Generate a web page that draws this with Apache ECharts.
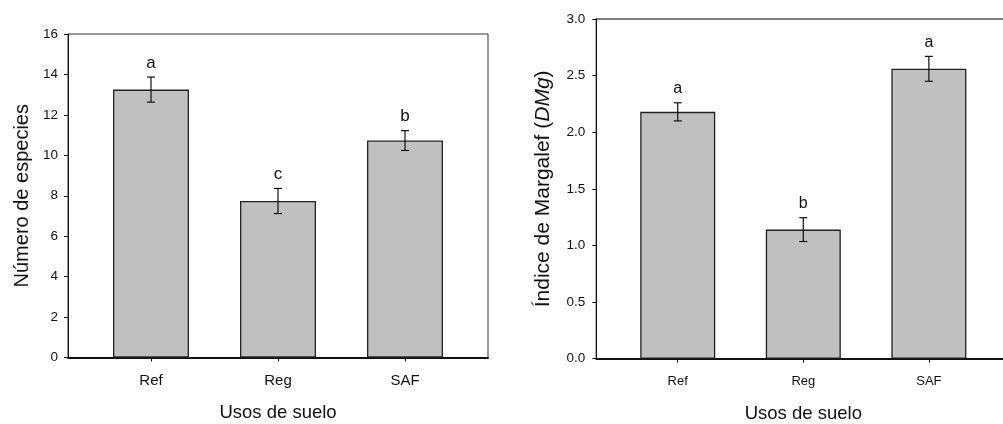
<!DOCTYPE html>
<html>
<head>
<meta charset="utf-8">
<script src="https://cdn.jsdelivr.net/npm/echarts@6/dist/echarts.min.js"></script>
<style>html,body{margin:0;padding:0;background:#fff}#c{width:1003px;height:424px}</style>
</head>
<body>
<div id="c"></div>
<script>
var categories = ['Ref', 'Reg', 'SAF'];
var speciesMean = [13.25, 7.74, 10.73];
var speciesErr = [0.62, 0.62, 0.49];
var speciesLetters = ['a', 'c', 'b'];
var margalefMean = [2.18, 1.14, 2.56];
var margalefErr = [0.08, 0.105, 0.11];
var margalefLetters = ['a', 'b', 'a'];
var speciesTicks = [0, 2, 4, 6, 8, 10, 12, 14, 16];
var margalefTicks = [0, 0.5, 1.0, 1.5, 2.0, 2.5, 3.0];

var FONT = '"Liberation Sans", Arial, Helvetica, sans-serif';
var chart = echarts.init(document.getElementById('c'), null, {renderer: 'canvas'});

function barData(means) { return means.map(function (v, i) { return [i, v]; }); }
function errData(means, errs) {
  return means.map(function (v, i) { return [i, v - errs[i], v + errs[i]]; });
}
function renderErr(letters, capHalf, labelSize, labelGap) {
  return function (params, api) {
    var x = api.value(0);
    var lo = api.coord([x, api.value(1)]);
    var hi = api.coord([x, api.value(2)]);
    var st = {stroke: '#111', lineWidth: 1.2};
    return {
      type: 'group',
      children: [
        {type: 'line', shape: {x1: lo[0], y1: lo[1], x2: hi[0], y2: hi[1]}, style: st},
        {type: 'line', shape: {x1: lo[0] - capHalf, y1: lo[1], x2: lo[0] + capHalf, y2: lo[1]}, style: st},
        {type: 'line', shape: {x1: hi[0] - capHalf, y1: hi[1], x2: hi[0] + capHalf, y2: hi[1]}, style: st},
        {type: 'text', x: hi[0], y: hi[1] - labelGap, style: {text: letters[params.dataIndex], fill: '#111', fontSize: labelSize, fontFamily: FONT, align: 'center', verticalAlign: 'middle'}}
      ]
    };
  };
}

function xAxisCfg(gridIndex, min, max, labelSize, margin) {
  return {
    type: 'value', gridIndex: gridIndex, min: min, max: max,
    splitLine: {show: false},
    axisLine: {show: true, onZero: false, lineStyle: {color: '#111', width: 2}},
    axisTick: {show: true, customValues: [0, 1, 2], length: 4, lineStyle: {color: '#111', width: 1}},
    axisLabel: {show: true, customValues: [0, 1, 2], margin: margin, fontSize: labelSize, color: '#111', fontFamily: FONT,
      formatter: function (v) { return categories[Math.round(v)]; }},
    name: 'Usos de suelo', nameLocation: 'middle', nameGap: 46, nameMoveOverlap: false,
    nameTextStyle: {fontSize: 18.5, color: '#111', fontFamily: FONT}
  };
}

var option = {
  animation: false,
  backgroundColor: '#fff',
  grid: [
    {left: 68, top: 34, width: 420, height: 323.5, show: true, borderColor: '#333', borderWidth: 1, backgroundColor: 'transparent', outerBoundsMode: 'none', containLabel: false},
    {left: 596.3, top: 19, width: 414, height: 339.7, show: true, borderColor: '#555', borderWidth: 1.5, backgroundColor: 'transparent', outerBoundsMode: 'none', containLabel: false}
  ],
  xAxis: [
    xAxisCfg(0, -0.6535, 2.6535, 15, 16),
    xAxisCfg(1, -0.6486, 2.6486, 13, 16)
  ],
  yAxis: [
    {type: 'value', gridIndex: 0, min: 0, max: 16, interval: 2,
     splitLine: {show: false},
     axisLine: {show: true, onZero: false, lineStyle: {color: '#111', width: 1}},
     axisTick: {show: true, length: 4, lineStyle: {color: '#111'}},
     axisLabel: {margin: 10, fontSize: 13.5, color: '#111', fontFamily: FONT},
     name: 'Número de especies', nameLocation: 'middle', nameGap: 36, nameMoveOverlap: false,
     nameTextStyle: {fontSize: 20, color: '#111', fontFamily: FONT}},
    {type: 'value', gridIndex: 1, min: 0, max: 3, interval: 0.5,
     splitLine: {show: false},
     axisLine: {show: true, onZero: false, lineStyle: {color: '#111', width: 1}},
     axisTick: {show: true, length: 4, lineStyle: {color: '#111'}},
     axisLabel: {margin: 11, fontSize: 13.5, color: '#111', fontFamily: FONT,
       formatter: function (v) { return v.toFixed(1); }},
     name: '{n|Índice de Margalef (}{i|DMg}{n|)}', nameLocation: 'middle', nameGap: 43, nameMoveOverlap: false,
     nameTextStyle: {fontSize: 21, color: '#111', fontFamily: FONT,
       rich: {n: {fontSize: 21, fontFamily: FONT, color: '#111'}, i: {fontSize: 21, fontFamily: FONT, fontStyle: 'italic', color: '#111'}}}}
  ],
  series: [
    {type: 'bar', xAxisIndex: 0, yAxisIndex: 0, barWidth: 76, data: barData(speciesMean),
     itemStyle: {color: '#c0c0c0', borderColor: '#222', borderWidth: 1.3}},
    {type: 'custom', xAxisIndex: 0, yAxisIndex: 0, data: errData(speciesMean, speciesErr),
     renderItem: renderErr(speciesLetters, 4, 17, 14), z: 5},
    {type: 'bar', xAxisIndex: 1, yAxisIndex: 1, barWidth: 75, data: barData(margalefMean),
     itemStyle: {color: '#c0c0c0', borderColor: '#222', borderWidth: 1.3}},
    {type: 'custom', xAxisIndex: 1, yAxisIndex: 1, data: errData(margalefMean, margalefErr),
     renderItem: renderErr(margalefLetters, 4, 16, 14), z: 5}
  ]
};
chart.setOption(option);
</script>
</body>
</html>
